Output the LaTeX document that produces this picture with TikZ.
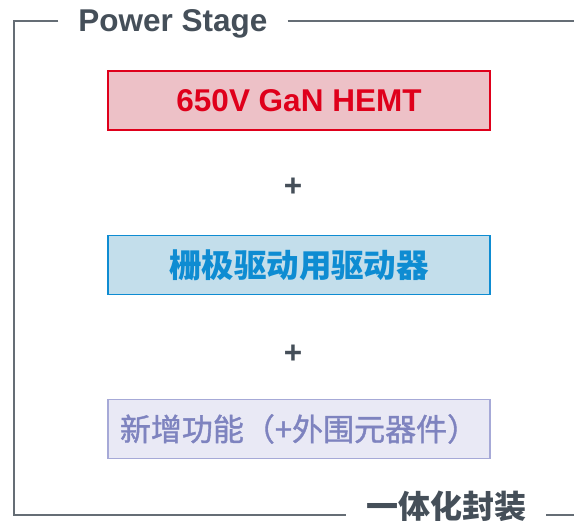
\documentclass[tikz,border=0pt]{standalone}
\usepackage{fontspec}
\setmainfont{Liberation Sans}
\newfontfamily\cjk{Noto Sans CJK SC}
\newfontfamily\cjkmed{Noto Sans CJK SC}[FakeBold = 1.2]
\definecolor{framegray}{HTML}{656D75}
\definecolor{titlegray}{HTML}{454F59}
\definecolor{ganred}{HTML}{DF001B}
\definecolor{ganfill}{HTML}{EDC1C7}
\definecolor{drvblue}{HTML}{0E8CD2}
\definecolor{drvfill}{HTML}{C3DEEB}
\definecolor{extviolet}{HTML}{7E83BF}
\definecolor{extline}{HTML}{A6A9D7}
\definecolor{extfill}{HTML}{E9E9F5}
\tikzset{
    bigfont/.style = {font = \fontsize{31.5}{36}\selectfont\bfseries},
    block/.style = {draw, line width = 1.3pt, minimum width = 382pt, minimum height = 59pt, inner sep = 0pt},
    label/.style = {bigfont, text = titlegray, inner xsep = 20pt, inner ysep = 0pt},
    frame/.style = {draw = framegray, line width = 1.4pt}
}

\begin{document}
\begin{tikzpicture}[x = 1pt, y = -1pt]
    \useasboundingbox (0, 0) rectangle (574, 521);

    \coordinate (tl) at (14, 21);
    \coordinate (bl) at (14, 515);
    \coordinate (tr) at (574, 21);
    \coordinate (br) at (574, 515);

    \node[label, text depth = 0pt] (title) at (173, 21) {Power Stage};
    \node[label, font = \fontsize{32}{36}\selectfont\cjk\bfseries] (pkg) at (446, 506) {一体化封装};

    \node[block, bigfont, draw = ganred, fill = ganfill, text = ganred] (gan) at (299, 100.5) {650V GaN HEMT};
    \node[bigfont, text = titlegray] (plus1) at (293, 187) {+};
    \node[block, draw = drvblue, fill = drvfill, text = drvblue, font = \fontsize{32.5}{36}\selectfont\cjk\bfseries] (driver) at (299, 265) {栅极驱动用驱动器};
    \node[bigfont, text = titlegray] (plus2) at (293, 354) {+};
    \node[block, draw = extline, fill = extfill, text = extviolet, font = \fontsize{31}{36}\selectfont\cjkmed] (extra) at (299, 429) {新增功能（+外围元器件）};

    \draw[frame] (title.west |- tl) -- (tl) -- (bl) -- (bl -| pkg.west);
    \draw[frame] (title.east |- tr) -- (tr);
    \draw[frame] (pkg.east |- br) -- (br);
\end{tikzpicture}
\end{document}
